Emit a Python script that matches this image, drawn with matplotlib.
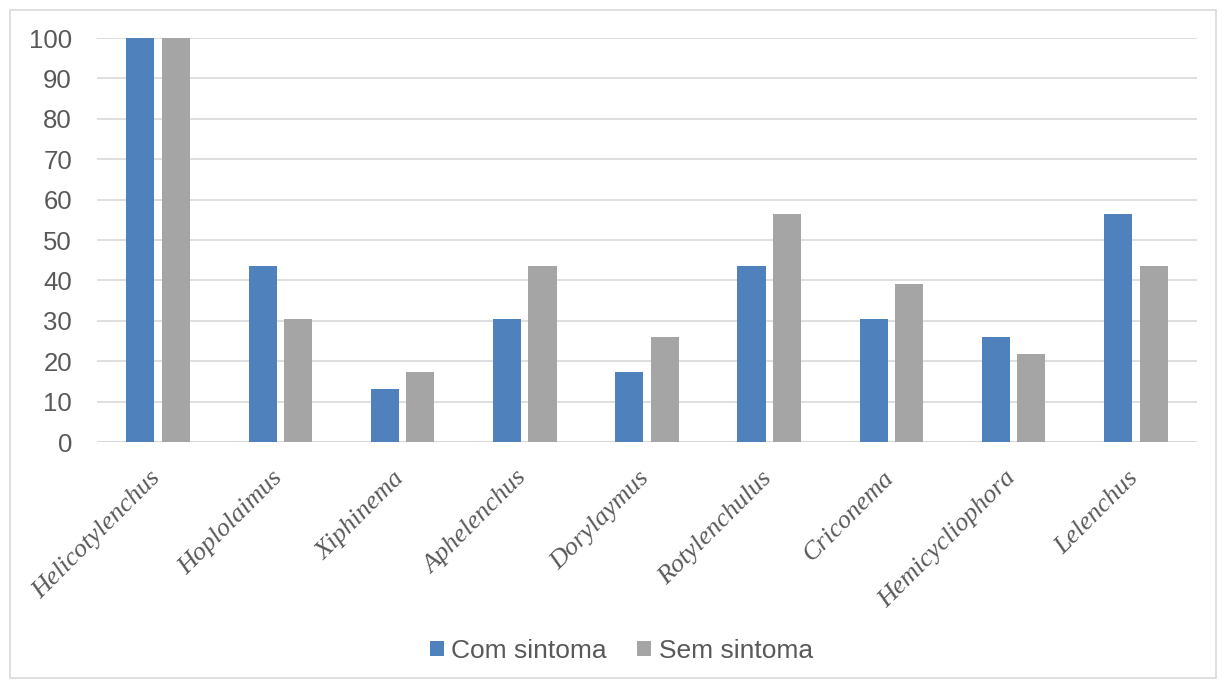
import matplotlib
matplotlib.use("Agg")
import matplotlib.pyplot as plt
import matplotlib.transforms as mtransforms
import numpy as np
from matplotlib.patches import Rectangle

categories = ["Helicotylenchus", "Hoplolaimus", "Xiphinema", "Aphelenchus", "Dorylaymus",
              "Rotylenchulus", "Criconema", "Hemicycliophora", "Lelenchus"]
com_sintoma = [100, 43.5, 13.0, 30.4, 17.4, 43.5, 30.4, 26.1, 56.5]
sem_sintoma = [100, 30.4, 17.4, 43.5, 26.1, 56.5, 39.1, 21.7, 43.5]
series_names = ["Com sintoma", "Sem sintoma"]
yticks = [0, 10, 20, 30, 40, 50, 60, 70, 80, 90, 100]

fig = plt.figure(figsize=(12.24, 6.81), dpi=100)
ax = fig.add_axes([97/1224, 1-442/681, 1100/1224, 404/681])

x = np.arange(len(categories))
w = 0.23
off = 0.145
ax.bar(x - off, com_sintoma, w, color="#4f81bd", label=series_names[0], zorder=3)
ax.bar(x + off, sem_sintoma, w, color="#a5a5a5", label=series_names[1], zorder=3)

ax.set_xlim(-0.5, len(categories) - 0.5)
ax.set_ylim(0, 100)
ax.set_yticks(yticks)
ax.yaxis.grid(True, color="#d9d9d9", linewidth=1.2, zorder=0)
for s in ax.spines.values():
    s.set_visible(False)
ax.axhline(0, color="#d9d9d9", linewidth=1.5, zorder=2)
ax.tick_params(axis="both", length=0)
ax.tick_params(axis="y", labelsize=18.5, labelcolor="#595959", pad=18)
for lab in ax.get_yticklabels():
    lab.set_fontfamily("Liberation Sans")
ax.set_xticks(x)
ax.set_xticklabels(categories, rotation=45, ha="right", rotation_mode="anchor",
                   fontsize=19, fontstyle="italic", family="Liberation Serif", color="#595959")
ax.tick_params(axis="x", pad=18)
shift = mtransforms.ScaledTranslation(-9/100, 0, fig.dpi_scale_trans)
for lab in ax.get_xticklabels():
    lab.set_transform(lab.get_transform() + shift)

leg = fig.legend(loc="center", bbox_to_anchor=(621.5/1224, 1-651/681), ncol=2, frameon=False,
                 prop={"family": "Liberation Sans", "size": 19}, handlelength=0.53,
                 handleheight=0.53, columnspacing=1.15, handletextpad=0.27)
for t in leg.get_texts():
    t.set_color("#595959")

fig.patches.append(Rectangle((10/1224, 3/681), 1206/1224, 668/681, transform=fig.transFigure,
                             fill=False, edgecolor="#d9d9d9", linewidth=1.2))

fig.savefig("out.png", dpi=100)
